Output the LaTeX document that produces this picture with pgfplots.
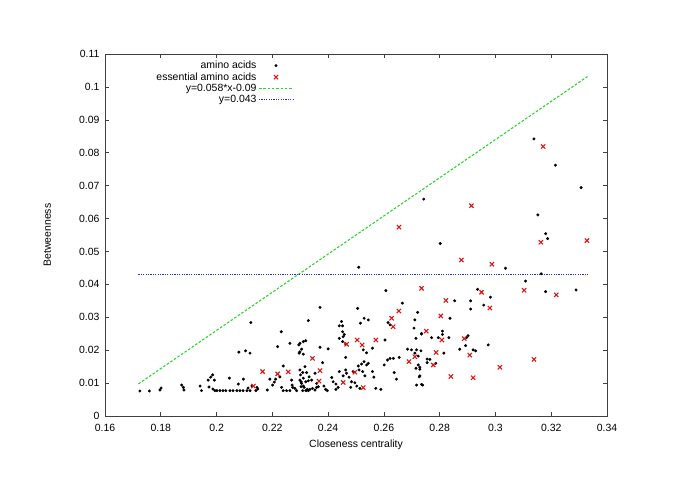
\documentclass[border=0pt]{standalone}
\usepackage{fontspec}
\setmainfont{Liberation Sans}
\usepackage{pgfplots}
\pgfplotsset{compat=1.18}

\definecolor{gpred}{RGB}{222,20,20}
\definecolor{gpgreen}{RGB}{40,215,40}
\definecolor{gpblue}{RGB}{40,40,225}

\begin{document}
\begin{tikzpicture}[font=\fontsize{10.5}{12.6}\selectfont]
\path[use as bounding box] (0,0) rectangle (685bp,484bp);
\begin{axis}[
    scale only axis,
    width=502bp, height=362bp,
    at={(105bp,68bp)}, anchor=south west,
    xmin=0.16, xmax=0.34, ymin=0, ymax=0.11,
    xtick={0.16,0.18,0.2,0.22,0.24,0.26,0.28,0.3,0.32,0.34},
    xticklabels={0.16,0.18,0.2,0.22,0.24,0.26,0.28,0.3,0.32,0.34},
    ytick={0,0.01,0.02,0.03,0.04,0.05,0.06,0.07,0.08,0.09,0.1,0.11},
    yticklabels={0,0.01,0.02,0.03,0.04,0.05,0.06,0.07,0.08,0.09,0.1,0.11},
    xticklabel style={yshift=-5bp},
    yticklabel style={xshift=-2bp},
    tick align=inside, major tick length=4bp,
    axis line style={black!75, line width=0.6pt},
    tick style={black!75, line width=0.6pt},
    xlabel={Closeness centrality}, ylabel={Betweenness},
    xlabel style={at={(axis description cs:0.5,-0.08)}, anchor=center},
    ylabel style={at={(axis description cs:-0.115,0.5)}, anchor=center},
    legend cell align=right, legend plot pos=right,
    legend style={draw=none, fill=none, at={(0.382,0.992)}, anchor=north east,
        row sep=-1.5bp, /tikz/every even column/.append style={column sep=4bp}},
    legend image code/.code={\draw[mark repeat=2,mark phase=2,#1] plot coordinates {(0cm,0cm) (0.6cm,0cm) (1.2cm,0cm)};},
]
% amino acids
\addplot[only marks, mark=*, mark size=1.3bp, black] coordinates {
(0.1725,0.0076) (0.1759,0.0076) (0.1797,0.0079) (0.1801,0.0085) (0.1875,0.0094)
(0.1881,0.0087) (0.1883,0.0079) (0.1941,0.0091) (0.1946,0.0077) (0.1970,0.0109)
(0.1979,0.0118) (0.1986,0.0125) (0.1992,0.0109) (0.1973,0.0088) (0.1987,0.0082)
(0.1994,0.0077) (0.2001,0.0077) (0.2012,0.0077) (0.2023,0.0077) (0.2033,0.0077)
(0.2048,0.0077) (0.2059,0.0077) (0.2073,0.0077) (0.2084,0.0077) (0.2095,0.0077)
(0.2109,0.0077) (0.2120,0.0077) (0.2046,0.0115) (0.2078,0.0097) (0.2096,0.0112)
(0.2080,0.0194) (0.2104,0.0198) (0.2120,0.0191) (0.2123,0.0284) (0.2113,0.0085)
(0.2127,0.0091) (0.2141,0.0077) (0.2148,0.0082) (0.2145,0.0087) (0.2182,0.0079)
(0.2191,0.0112) (0.2201,0.0094) (0.2207,0.0103) (0.2212,0.0112) (0.2219,0.0211)
(0.2232,0.0256) (0.2239,0.0152) (0.2227,0.0119) (0.2233,0.0087) (0.2239,0.0077)
(0.2251,0.0077) (0.2263,0.0077) (0.2273,0.0087) (0.2263,0.0221) (0.2269,0.0109)
(0.2271,0.0094) (0.2281,0.0084) (0.2287,0.0077) (0.2295,0.0216) (0.2296,0.0191)
(0.2305,0.0203) (0.2301,0.0125) (0.2299,0.0109) (0.2305,0.0099) (0.2311,0.0091)
(0.2320,0.0104) (0.2323,0.0079) (0.2329,0.0077) (0.2329,0.0290) (0.2371,0.0330)
(0.2299,0.0221) (0.2311,0.0226) (0.2320,0.0229) (0.2371,0.0209) (0.2400,0.0204)
(0.2299,0.0195) (0.2311,0.0188) (0.2380,0.0162) (0.2353,0.0130) (0.2299,0.0140)
(0.2317,0.0150) (0.2309,0.0132) (0.2323,0.0132) (0.2332,0.0119) (0.2311,0.0115)
(0.2303,0.0104) (0.2329,0.0107) (0.2341,0.0109) (0.2359,0.0099) (0.2365,0.0089)
(0.2303,0.0089) (0.2314,0.0087) (0.2326,0.0081) (0.2309,0.0077) (0.2320,0.0077)
(0.2335,0.0081) (0.2344,0.0084) (0.2353,0.0079) (0.2359,0.0087) (0.2385,0.0091)
(0.2391,0.0081) (0.2397,0.0077) (0.2413,0.0117) (0.2418,0.0104) (0.2428,0.0097)
(0.2436,0.0087) (0.2428,0.0081) (0.2440,0.0135) (0.2454,0.0122) (0.2463,0.0140)
(0.2466,0.0130) (0.2475,0.0118) (0.2484,0.0104) (0.2481,0.0087) (0.2490,0.0135)
(0.2496,0.0101) (0.2508,0.0152) (0.2520,0.0158) (0.2529,0.0165) (0.2538,0.0155)
(0.2544,0.0160) (0.2511,0.0140) (0.2524,0.0135) (0.2532,0.0122) (0.2559,0.0135)
(0.2564,0.0118) (0.2571,0.0084) (0.2589,0.0081) (0.2503,0.0091) (0.2514,0.0084)
(0.2440,0.0236) (0.2452,0.0274) (0.2448,0.0287) (0.2440,0.0274) (0.2452,0.0226)
(0.2458,0.0248) (0.2463,0.0219) (0.2463,0.0178) (0.2452,0.0256) (0.2454,0.0241)
(0.2506,0.0327) (0.2529,0.0297) (0.2544,0.0292) (0.2516,0.0282) (0.2526,0.0201)
(0.2538,0.0192) (0.2559,0.0206) (0.2604,0.0231) (0.2601,0.0155) (0.2613,0.0170)
(0.2622,0.0175) (0.2634,0.0175) (0.2655,0.0178) (0.2637,0.0132) (0.2645,0.0112)
(0.2615,0.0284) (0.2622,0.0277) (0.2711,0.0292) (0.2721,0.0315) (0.2708,0.0267)
(0.2735,0.0251) (0.2715,0.0236) (0.2699,0.0201) (0.2717,0.0201) (0.2711,0.0191)
(0.2723,0.0182) (0.2723,0.0155) (0.2715,0.0145) (0.2729,0.0142) (0.2727,0.0119)
(0.2717,0.0094) (0.2735,0.0096) (0.2685,0.0203) (0.2854,0.0350) (0.2911,0.0350)
(0.2911,0.0325) (0.2837,0.0297) (0.2982,0.0361) (0.2958,0.0337) (0.3180,0.0378)
(0.2810,0.0258) (0.2810,0.0248) (0.2735,0.0249) (0.2771,0.0238) (0.2795,0.0238)
(0.2833,0.0238) (0.2902,0.0244) (0.2896,0.0238) (0.2872,0.0203) (0.2893,0.0214)
(0.2920,0.0201) (0.2929,0.0198) (0.2815,0.0191) (0.2733,0.0198) (0.2974,0.0216)
(0.2755,0.0173) (0.2765,0.0172) (0.2755,0.0162) (0.2786,0.0160) (0.2729,0.0148)
(0.2729,0.0122) (0.2739,0.0094) (0.3138,0.0842) (0.3215,0.0762) (0.3307,0.0694)
(0.3152,0.0611) (0.3180,0.0554) (0.3187,0.0539) (0.3036,0.0449) (0.3164,0.0432)
(0.3108,0.0410) (0.2936,0.0385) (0.3289,0.0383) (0.2743,0.0659) (0.2802,0.0524)
(0.2510,0.0452) (0.2607,0.0381) (0.2666,0.0343)
};
\addlegendentry{amino acids}
% essential amino acids
\addplot[only marks, mark=x, mark size=3bp, gpred, line width=1.1pt] coordinates {
(0.2132,0.0091) (0.2165,0.0135) (0.2219,0.0128) (0.2257,0.0134) (0.2344,0.0175)
(0.2371,0.0138) (0.2367,0.0106) (0.2454,0.0102) (0.2466,0.0218) (0.2496,0.0133)
(0.2504,0.0231) (0.2522,0.0216) (0.2526,0.0086) (0.2571,0.0231) (0.2628,0.0297)
(0.2633,0.0271) (0.2654,0.0319) (0.2654,0.0574) (0.2690,0.0165) (0.2711,0.0180)
(0.2735,0.0388) (0.2752,0.0258) (0.2777,0.0155) (0.2787,0.0193) (0.2804,0.0304)
(0.2808,0.0231) (0.2822,0.0351) (0.2840,0.0120) (0.2878,0.0474) (0.2888,0.0235)
(0.2908,0.0185) (0.2914,0.0639) (0.2920,0.0116) (0.2950,0.0376) (0.2980,0.0328)
(0.2987,0.0461) (0.3016,0.0148) (0.3103,0.0382) (0.3138,0.0172) (0.3163,0.0528)
(0.3171,0.0819) (0.3218,0.0368) (0.3328,0.0533)
};
\addlegendentry{essential amino acids}
\addplot[gpgreen, line width=1.1pt, dash pattern=on 2.5bp off 1.8bp] coordinates {(0.172,0.00976) (0.333,0.10314)};
\addlegendentry{y=0.058*x-0.09}
\addplot[gpblue, line width=1.1pt, dash pattern=on 1.2bp off 1.2bp] coordinates {(0.172,0.043) (0.333,0.043)};
\addlegendentry{y=0.043}
\end{axis}
\end{tikzpicture}
\end{document}
